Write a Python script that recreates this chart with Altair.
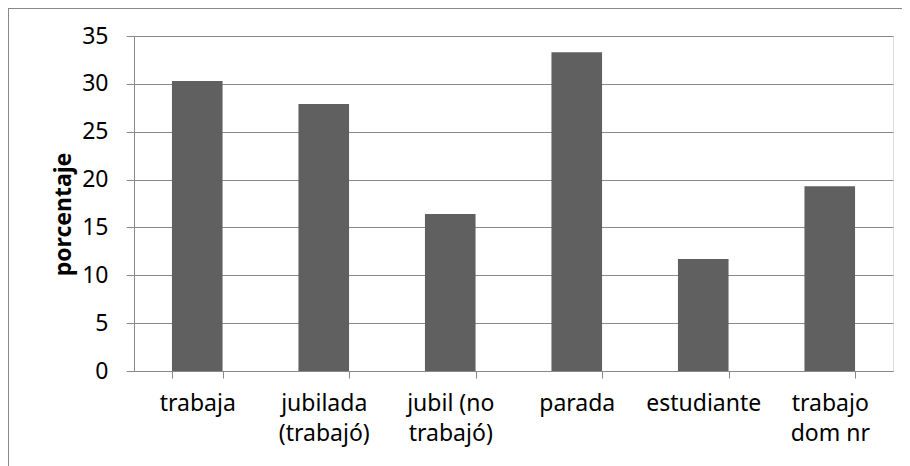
import altair as alt
import pandas as pd

categories = ["trabaja", "jubilada\n(trabajó)", "jubil (no\ntrabajó)", "parada", "estudiante", "trabajo\ndom nr"]
values = [30.3, 27.9, 16.4, 33.3, 11.7, 19.3]
y_ticks = [0, 5, 10, 15, 20, 25, 30, 35]

df = pd.DataFrame({"cat": categories, "val": values})

FONT = "Noto Sans"
GRAY = "#888888"

bars = alt.Chart(df).mark_bar(color="#606060").encode(
    x=alt.X("cat:N", sort=categories,
            scale=alt.Scale(paddingInner=0.6, paddingOuter=0.3),
            axis=alt.Axis(title=None, labelAngle=0, tickBand="extent",
                          labelExpr="split(datum.label, '\\n')",
                          labelFont=FONT, labelFontSize=23, labelColor="black",
                          labelLineHeight=30, labelPadding=14,
                          tickSize=7, tickColor=GRAY, domainColor=GRAY, grid=False)),
    y=alt.Y("val:Q", scale=alt.Scale(domain=[0, 35], nice=False),
            axis=alt.Axis(title="porcentaje", values=y_ticks, grid=True, gridColor=GRAY,
                          labelFont=FONT, labelFontSize=23, labelColor="black", labelPadding=18,
                          tickSize=8, tickColor=GRAY, domainColor=GRAY,
                          titleFont=FONT, titleFontSize=23, titleFontWeight="bold",
                          titleColor="black", titleX=-71, titleY=178, titleBaseline="middle")),
)

frame_df = pd.DataFrame({"k": [0]})
left_line = alt.Chart(frame_df).mark_rule(color=GRAY, strokeWidth=1).encode(
    x=alt.value(-125.5), y=alt.value(-28), y2=alt.value(430))
top_line = alt.Chart(frame_df).mark_rule(color=GRAY, strokeWidth=1).encode(
    x=alt.value(-126), x2=alt.value(768), y=alt.value(-27.5))

chart = alt.layer(bars, left_line, top_line).properties(
    width=759, height=335,
    autosize=alt.AutoSizeParams(type="none"),
    padding={"left": 126, "top": 28, "right": 9, "bottom": 95},
).configure_view(stroke=None).configure(background="white")

chart.save("out.html", embed_options={"renderer": "svg", "actions": False})
